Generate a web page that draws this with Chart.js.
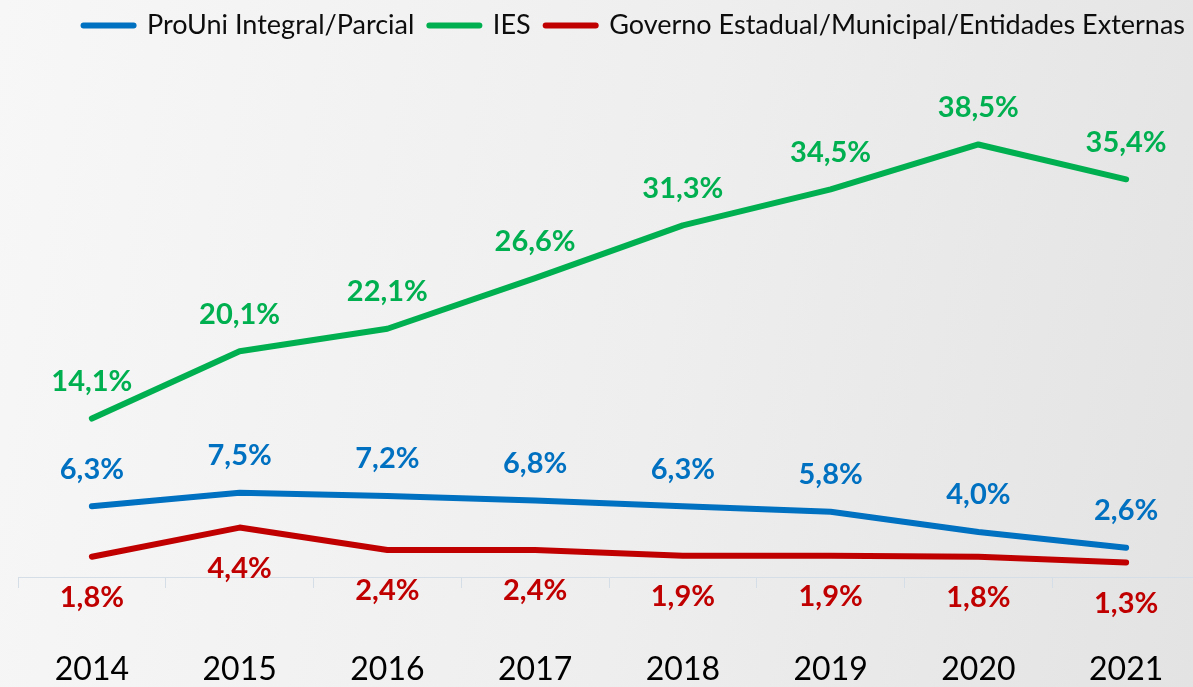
<!DOCTYPE html>
<html>
<head>
<meta charset="utf-8">
<script src="https://cdn.jsdelivr.net/npm/chart.js@4"></script>
<style>
  html, body { margin: 0; padding: 0; overflow: hidden; }
  body { width: 1193px; height: 687px; background: linear-gradient(100deg, #f7f7f7 0%, #eeeeee 55%, #e3e3e3 100%); }
  canvas { display: block; }
</style>
</head>
<body>
<canvas id="line-chart" width="1200" height="687"></canvas>
<script>
// Dados
const years = ['2014', '2015', '2016', '2017', '2018', '2019', '2020', '2021'];
const prouni = [6.3, 7.5, 7.2, 6.8, 6.3, 5.8, 4.0, 2.6];
const ies = [14.1, 20.1, 22.1, 26.6, 31.3, 34.5, 38.5, 35.4];
const governo = [1.8, 4.4, 2.4, 2.4, 1.9, 1.9, 1.8, 1.3];

const BLUE = '#0070C0';
const GREEN = '#00B050';
const RED = '#C00000';

// rótulos de dados (sem plugin externo)
const labelOffsets = [-37, -37, 41];
const dataLabels = {
    id: 'dataLabels',
    afterDatasetsDraw(chart) {
        const ctx = chart.ctx;
        ctx.save();
        ctx.font = 'bold 29px Lato';
        ctx.textAlign = 'center';
        ctx.textBaseline = 'middle';
        chart.data.datasets.forEach((ds, i) => {
            const meta = chart.getDatasetMeta(i);
            ctx.fillStyle = ds.borderColor;
            meta.data.forEach((pt, j) => {
                const txt = ds.data[j].toFixed(1).replace('.', ',') + '%';
                ctx.fillText(txt, pt.x, pt.y + labelOffsets[i]);
            });
        });
        ctx.restore();
    }
};

function serie(label, data, color) {
    return {
        label: label,
        data: data,
        borderColor: color,
        backgroundColor: color,
        pointBorderColor: color,
        pointBackgroundColor: color,
    };
}

const line_chart_ctx = document.getElementById('line-chart').getContext('2d');
const line_chart = new Chart(line_chart_ctx, {
    type: 'line',
    data: {
        labels: years,
        datasets: [
            serie('ProUni Integral/Parcial', prouni, BLUE),
            serie('IES', ies, GREEN),
            serie('Governo Estadual/Municipal/Entidades Externas', governo, RED)
        ]
    },
    options: {
        responsive: false,
        animation: false,
        elements: {
            line: {borderWidth: 6, tension: 0, borderCapStyle: 'round', borderJoinStyle: 'round'},
            point: {radius: 0, hoverRadius: 0}
        },
        layout: {padding: {top: -3, right: 0, bottom: 0, left: 18}},
        plugins: {
            legend: {
                display: true,
                align: 'end',
                labels: {
                    usePointStyle: true,
                    pointStyle: 'line',
                    pointStyleWidth: 50,
                    color: '#0d0d0d',
                    font: {family: 'Lato', size: 27},
                    padding: 15,
                    generateLabels(chart) {
                        const items = Chart.defaults.plugins.legend.labels.generateLabels(chart);
                        items.forEach((it, i) => {
                            const c = chart.data.datasets[i].borderColor;
                            it.strokeStyle = c;
                            it.fillStyle = c;
                            it.lineWidth = 6;
                            it.lineCap = 'round';
                        });
                        return items;
                    }
                }
            },
            tooltip: {enabled: false},
            title: {display: false}
        },
        scales: {
            x: {
                offset: true,
                border: {color: '#d5dde6', width: 1},
                grid: {
                    offset: true,
                    drawOnChartArea: false,
                    drawTicks: true,
                    tickLength: 11,
                    color: '#d5dde6'
                },
                ticks: {
                    color: '#000000',
                    font: {family: 'Lato', size: 32},
                    padding: 62
                },
                // altura fixa do eixo, sem folga lateral extra
                afterFit(scale) {
                    scale.height = 110;
                    scale.paddingLeft = 0;
                    scale.paddingRight = 0;
                }
            },
            y: {
                display: false,
                min: 0,
                max: 47
            }
        }
    },
    plugins: [dataLabels]
});
</script>
</body>
</html>
